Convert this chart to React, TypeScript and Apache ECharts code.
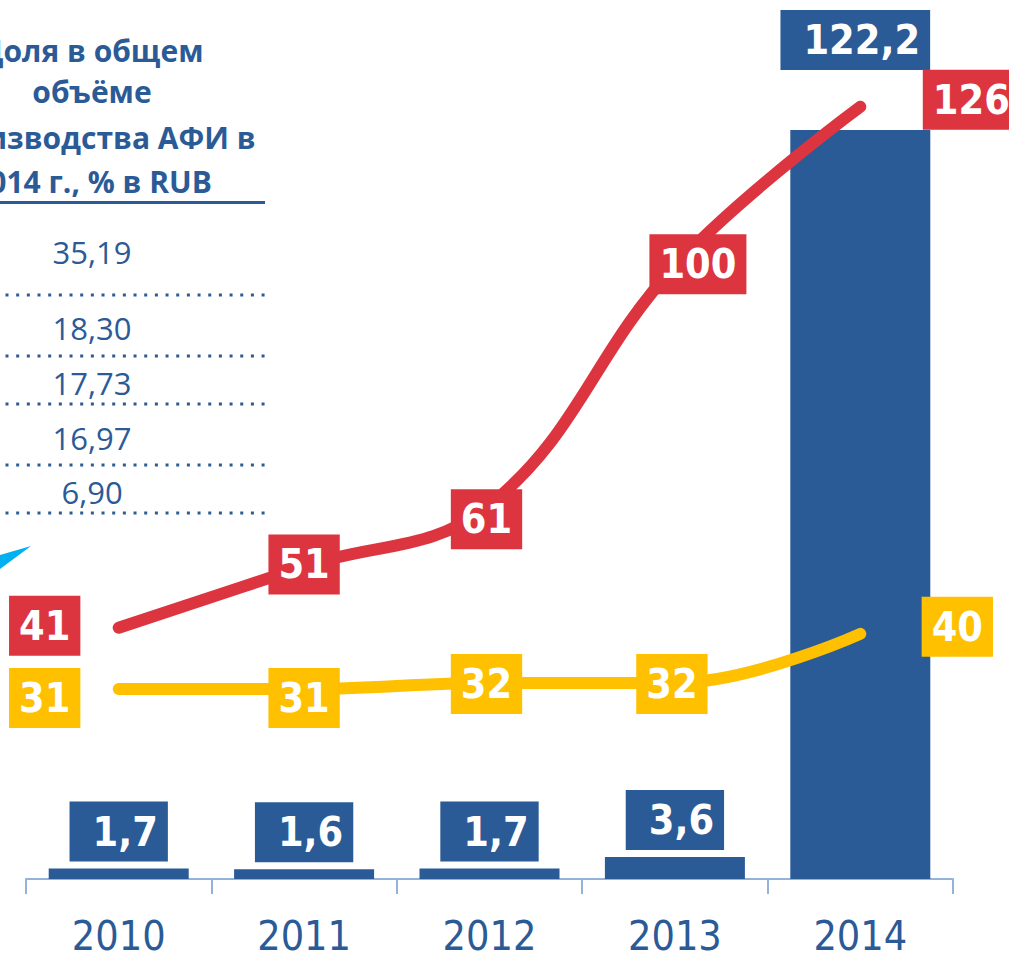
import React, { useEffect, useRef } from 'react';
import * as echarts from 'echarts';

// ---- data ----
const years = ['2010', '2011', '2012', '2013', '2014'];
const productionValues = [1.7, 1.6, 1.7, 3.6, 122.2];
const redIndex = [41, 51, 61, 100, 126];
const yellowIndex = [31, 31, 32, 32, 40];
const shareValues = [35.19, 18.3, 17.73, 16.97, 6.9];
const headingLines = ['Доля в общем', 'объёме', 'производства АФИ в', '2014 г., % в RUB'];

// ---- layout / style ----
const BLUE = '#2b5b97';
const RED = '#dc353f';
const YELLOW = '#ffc000';
const CYAN = '#00b0f0';
const AXIS = '#94b3d9';
const LABEL_FONT = '"DejaVu Sans Condensed", "DejaVu Sans", sans-serif';
const TEXT_FONT = '"Open Sans", "Noto Sans", sans-serif';

const redOffsets = [[-74, -2], [0, -2], [-3, 14], [23, -2], [111, -7]];
const yellowOffsets = [[-74, 9], [0, 9], [-3, 1], [-3, 1], [97, -7]];
const headingY = [50, 91, 137, 181];
const shareY = [252, 328, 383, 438, 492];
const dotY = [295, 356, 404, 465, 513];
const DOT_COUNT = 25;
const DOT_X0 = 7;
const DOT_STEP = 10.67;

const comma = (v: number, d: number) => v.toFixed(d).replace('.', ',');

const boxLabel = (bg: string, pad: number[]) => ({
  show: true,
  color: '#fff',
  fontFamily: LABEL_FONT,
  fontWeight: 'bold' as const,
  fontSize: 41,
  lineHeight: 42,
  padding: pad,
  backgroundColor: bg,
});

export default function App() {
  const ref = useRef<HTMLDivElement>(null);
  useEffect(() => {
    if (!ref.current) return;
    const chart = echarts.init(ref.current, null, { renderer: 'svg' });

    const graphics: any[] = [];
    headingLines.forEach((t, i) => {
      graphics.push({
        type: 'text',
        x: 92,
        y: headingY[i],
        style: {
          text: t,
          fill: BLUE,
          fontFamily: TEXT_FONT,
          fontWeight: 'bold',
          fontSize: 30,
          align: 'center',
          verticalAlign: 'middle',
        },
      });
    });
    graphics.push({ type: 'rect', shape: { x: 0, y: 201, width: 265, height: 3 }, style: { fill: BLUE } });
    shareValues.forEach((v, i) => {
      graphics.push({
        type: 'text',
        x: 92,
        y: shareY[i],
        style: {
          text: comma(v, 2),
          fill: BLUE,
          fontFamily: TEXT_FONT,
          fontSize: 31,
          align: 'center',
          verticalAlign: 'middle',
        },
      });
    });
    dotY.forEach((y) => {
      for (let k = 0; k < DOT_COUNT; k++) {
        graphics.push({
          type: 'rect',
          shape: { x: DOT_X0 + k * DOT_STEP - 1.5, y: y - 1.5, width: 3, height: 3 },
          style: { fill: BLUE },
        });
      }
    });
    graphics.push({
      type: 'polygon',
      shape: { points: [[0, 555], [31, 546], [0, 569]] },
      style: { fill: CYAN },
    });

    chart.setOption({
      animation: false,
      grid: { left: 26, right: 56, top: 21, bottom: 74 },
      xAxis: {
        type: 'category',
        data: years,
        axisLine: { lineStyle: { color: AXIS, width: 2 } },
        axisTick: { show: true, length: 15, lineStyle: { color: AXIS, width: 2 } },
        axisLabel: {
          color: BLUE,
          fontFamily: LABEL_FONT,
          fontSize: 41,
          margin: 36,
        },
      },
      yAxis: { type: 'value', min: 0, max: 140, show: false },
      graphic: graphics,
      series: [
        {
          type: 'bar',
          data: productionValues.map((v, i) =>
            i === 4
              ? { value: v, label: { distance: 60, offset: [-5, 0] } }
              : { value: v }
          ),
          barWidth: 140,
          itemStyle: { color: BLUE },
          label: {
            ...boxLabel(BLUE, [9, 10, 9, 23]),
            position: 'top',
            distance: 7,
            formatter: (p: any) => comma(p.value, 1),
          },
          z: 1,
        },
        {
          type: 'line',
          data: redIndex.map((v, i) => ({ value: v, label: { offset: redOffsets[i] } })),
          smooth: 0.4,
          symbol: 'circle',
          symbolSize: 2,
          showSymbol: true,
          itemStyle: { color: RED },
          lineStyle: { color: RED, width: 12, cap: 'round' },
          label: { ...boxLabel(RED, [9, 10, 9, 10]), position: 'inside' },
          z: 3,
        },
        {
          type: 'line',
          data: yellowIndex.map((v, i) => ({ value: v, label: { offset: yellowOffsets[i] } })),
          smooth: 0.4,
          symbol: 'circle',
          symbolSize: 2,
          showSymbol: true,
          itemStyle: { color: YELLOW },
          lineStyle: { color: YELLOW, width: 12, cap: 'round' },
          label: { ...boxLabel(YELLOW, [9, 10, 9, 10]), position: 'inside' },
          z: 3,
        },
      ],
    });
    return () => chart.dispose();
  }, []);
  return (
    <div
      ref={ref}
      style={{ position: 'fixed', left: 0, top: 0, width: 1009, height: 956, background: '#fff' }}
    />
  );
}
